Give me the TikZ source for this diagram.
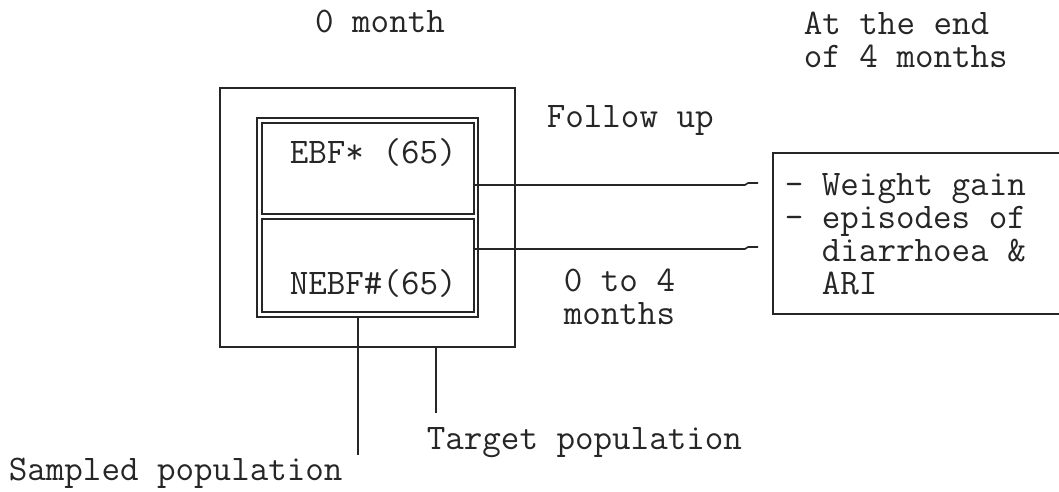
\documentclass[tikz,border=0pt]{standalone}
\usepackage{fontspec}
\begin{document}
\begin{tikzpicture}[x=1pt,y=-1pt,line width=1.6pt,
  ink/.style={draw=black!85},
  lbl/.style={font=\ttfamily\fontsize{36}{33}\selectfont,text=black!85,inner sep=0pt,align=left,anchor=west},
  boxx/.style={ink,rectangle,inner sep=0pt,outer sep=0pt},
  conn/.style={ink,line join=round}]
\useasboundingbox (0,0) rectangle (1059,492);
% boxes
\node[boxx,minimum width=295,minimum height=259] (outer) at (367.5,217.5) {};
\node[boxx,minimum width=221,minimum height=199] (frame) at (367.5,217.5) {};
\node[boxx,minimum width=212,minimum height=91] (ebf) at (368,168.5) {};
\node[boxx,minimum width=212,minimum height=93] (nebf) at (368,265.5) {};
\node[boxx,minimum width=290,minimum height=161] (res) at (918,233.5) {};
% labels
\node[lbl,anchor=center] (t0) at (380,22) {0 month};
\node[lbl] (tend) at (803,40) {At the end\\of 4 months};
\node[lbl] (tfol) at (546,120) {Follow up};
\node[lbl] (t04) at (563,297) {0 to 4\\months};
\node[lbl] (tebf) at (289,153) {EBF* (65)};
\node[lbl] (tnebf) at (289,283) {NEBF\#(65)};
\node[lbl] (tres) at (784,234) {- Weight gain\\- episodes of\\\ \ diarrhoea \&\\\ \ ARI};
\node[lbl] (ttar) at (426,443) {Target population};
\node[lbl] (tsam) at (8,473) {Sampled population};
% connectors
\coordinate (c1) at (758,183);
\coordinate (j1) at (745,185);
\coordinate (c2) at (758,247);
\coordinate (j2) at (745,249);
\coordinate (cs) at (358,455);
\coordinate (ct) at (436,413);
\draw[conn] (ebf.east |- j1) -- (j1) -- ([xshift=3pt]j1 |- c1) -- (c1);
\draw[conn] (nebf.east |- j2) -- (j2) -- ([xshift=3pt]j2 |- c2) -- (c2);
\draw[conn] (frame.south -| cs) -- (cs);
\draw[conn] (outer.south -| ct) -- (ct);
\end{tikzpicture}
\end{document}
